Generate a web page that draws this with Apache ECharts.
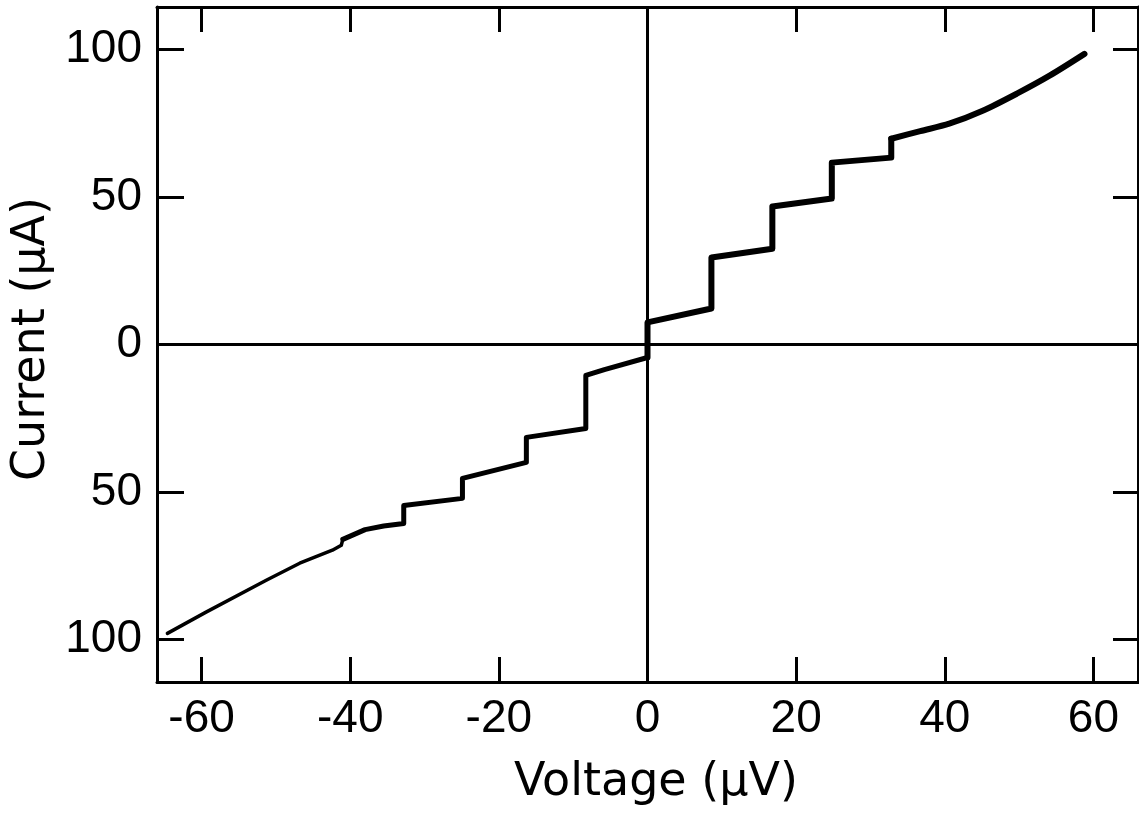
<!DOCTYPE html>
<html>
<head>
<meta charset="utf-8">
<script src="https://cdn.jsdelivr.net/npm/echarts@6/dist/echarts.min.js"></script>
<style>
html,body{margin:0;padding:0;background:#fff;}
#chart{width:1139px;height:814px;}
</style>
</head>
<body>
<div id="chart"></div>
<script>
// Tick values / labels
const xTicks = [-60, -40, -20, 0, 20, 40, 60];
const yTicks = [-100, -50, 0, 50, 100];
const xTitle = 'Voltage (\u03bcV)';
const yTitle = 'Current (\u03bcA)';

// Positive branch with steps (V in µV, I in µA)
const posV = [0, 0, 8.6, 8.6, 16.8, 16.8, 24.8, 24.8, 32.8, 32.8];
const posI = [-4.4, 7.5, 12.2, 29.5, 32.5, 46.8, 49.5, 61.7, 63.4, 69.8];

// Positive branch, smooth upper part
const curveV = [32.8, 36.7, 40.6, 45.1, 49.7, 54.1, 58.8];
const curveI = [69.8, 72.4, 74.9, 79.3, 85.1, 91.2, 98.6];

// Negative branch with steps
const negV = [0, -5.8, -8.3, -8.3, -16.3, -16.3, -24.9, -24.9, -32.8, -32.8, -35.5, -38.0, -41.0];
const negI = [-4.4, -8.5, -10.5, -28.5, -31.5, -40.0, -45.4, -52.2, -54.6, -60.7, -61.6, -62.8, -66.1];

// Negative tail (thinner trace)
const tailV = [-41.0, -41.2, -42.4, -46.8, -51.3, -59.4, -64.6];
const tailI = [-66.1, -68.1, -69.8, -74.2, -80.0, -90.8, -98.0];

const zip = (a, b) => a.map((v, i) => [v, b[i]]);

const chart = echarts.init(document.getElementById('chart'), null, {renderer: 'canvas'});
const FONT = 'Liberation Sans';
const axisLineStyle = {color: '#000', width: 3};
const tickStyle = {color: '#000', width: 3};

const option = {
  animation: false,
  backgroundColor: '#fff',
  grid: {left: 157, right: 1, top: 7, bottom: 132},
  xAxis: [
    {
      type: 'value', position: 'bottom', min: -66, max: 66,
      axisLine: {show: true, onZero: false, lineStyle: axisLineStyle},
      axisTick: {show: true, inside: true, length: 25, lineStyle: tickStyle, customValues: xTicks},
      axisLabel: {show: true, customValues: xTicks, margin: 14, color: '#000', fontSize: 46, fontFamily: FONT,
        formatter: v => String(v)},
      splitLine: {show: false}
    },
    {
      type: 'value', position: 'top', min: -66, max: 66,
      axisLine: {show: true, onZero: false, lineStyle: axisLineStyle},
      axisTick: {show: true, inside: true, length: 25, lineStyle: tickStyle, customValues: xTicks},
      axisLabel: {show: false},
      splitLine: {show: false}
    }
  ],
  yAxis: [
    {
      type: 'value', position: 'left', min: -114.5, max: 114.5,
      axisLine: {show: true, onZero: false, lineStyle: axisLineStyle},
      axisTick: {show: true, inside: true, length: 27, lineStyle: tickStyle, customValues: yTicks},
      axisLabel: {show: true, customValues: yTicks, margin: 15, color: '#000', fontSize: 46, fontFamily: FONT,
        formatter: v => String(Math.abs(v))},
      splitLine: {show: false}
    },
    {
      type: 'value', position: 'right', min: -114.5, max: 114.5,
      axisLine: {show: true, onZero: false, lineStyle: axisLineStyle},
      axisTick: {show: true, inside: true, length: 25, lineStyle: tickStyle, customValues: yTicks},
      axisLabel: {show: false},
      splitLine: {show: false}
    }
  ],
  graphic: [
    {type: 'text', x: 656, y: 783, style: {text: xTitle, fill: '#000', font: '46px "DejaVu Sans"', textAlign: 'center', textVerticalAlign: 'middle'}},
    {type: 'text', x: 32, y: 339, rotation: Math.PI / 2, style: {text: yTitle, fill: '#000', font: '46px "DejaVu Sans"', textAlign: 'center', textVerticalAlign: 'middle'}}
  ],
  series: [
    {
      type: 'line', xAxisIndex: 0, yAxisIndex: 0, data: zip(posV, posI),
      showSymbol: false, symbol: 'none', silent: true,
      lineStyle: {color: '#000', width: 6, join: 'round', cap: 'round'},
      markLine: {
        silent: true, symbol: 'none', animation: false,
        label: {show: false},
        lineStyle: {color: '#000', width: 3, type: 'solid'},
        data: [{xAxis: 0}, {yAxis: 0}]
      }
    },
    {
      type: 'line', xAxisIndex: 0, yAxisIndex: 0, data: zip(curveV, curveI),
      showSymbol: false, symbol: 'none', silent: true, smooth: 0.3,
      lineStyle: {color: '#000', width: 6, join: 'round', cap: 'round'}
    },
    {
      type: 'line', xAxisIndex: 0, yAxisIndex: 0, data: zip(negV, negI),
      showSymbol: false, symbol: 'none', silent: true,
      lineStyle: {color: '#000', width: 5, join: 'round', cap: 'round'}
    },
    {
      type: 'line', xAxisIndex: 0, yAxisIndex: 0, data: zip(tailV, tailI),
      showSymbol: false, symbol: 'none', silent: true,
      lineStyle: {color: '#000', width: 3.5, join: 'round', cap: 'round'}
    }
  ]
};
chart.setOption(option);
</script>
</body>
</html>
